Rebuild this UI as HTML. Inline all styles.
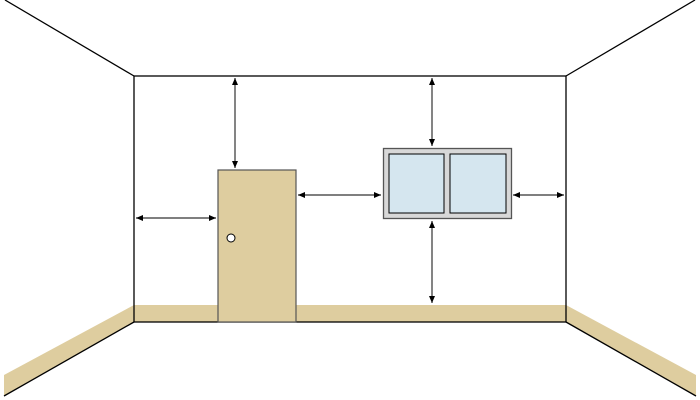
<!DOCTYPE html>
<html><head><style>body{margin:0;background:#fff}svg{display:block}</style></head><body>
<svg width="700" height="400" viewBox="0 0 700 400" xmlns="http://www.w3.org/2000/svg">
<defs><marker id="a" markerWidth="8" markerHeight="8" refX="7" refY="4" orient="auto-start-reverse" markerUnits="userSpaceOnUse"><path d="M0,1 L7,4 L0,7 Z" fill="#000"/></marker></defs>
<rect x="134" y="305" width="432" height="17" fill="#decd9f"/>
<polygon points="134,305 134,322 4,396 4,375" fill="#decd9f"/>
<polygon points="566,305 566,322 696,396 696,375" fill="#decd9f"/>
<g stroke="#000" stroke-width="1.3" fill="none">
<line x1="5" y1="0" x2="134" y2="76"/>
<line x1="695" y1="0" x2="566" y2="76"/>
<rect x="134" y="76" width="432" height="246"/>
<line x1="134" y1="322" x2="4" y2="396"/>
<line x1="566" y1="322" x2="696" y2="396"/>
</g>
<rect x="218" y="170" width="78" height="152" fill="#decd9f" stroke="#555" stroke-width="1.2"/>
<circle cx="231" cy="238" r="4" fill="#fff" stroke="#000" stroke-width="1"/>
<rect x="383.5" y="148.5" width="128" height="70" fill="#d8d8d8" stroke="#555" stroke-width="1.3"/>
<rect x="389" y="154" width="55" height="59" fill="#d5e6ef" stroke="#000" stroke-width="1"/>
<rect x="450" y="154" width="56" height="59" fill="#d5e6ef" stroke="#000" stroke-width="1"/>
<g stroke="#333" stroke-width="1.2" marker-start="url(#a)" marker-end="url(#a)">
<line x1="235" y1="78" x2="235" y2="168"/>
<line x1="136" y1="218" x2="216" y2="218"/>
<line x1="298" y1="195" x2="381" y2="195"/>
<line x1="432" y1="78" x2="432" y2="146"/>
<line x1="432" y1="221" x2="432" y2="303"/>
<line x1="513" y1="195" x2="564" y2="195"/>
</g>
</svg>
</body></html>
